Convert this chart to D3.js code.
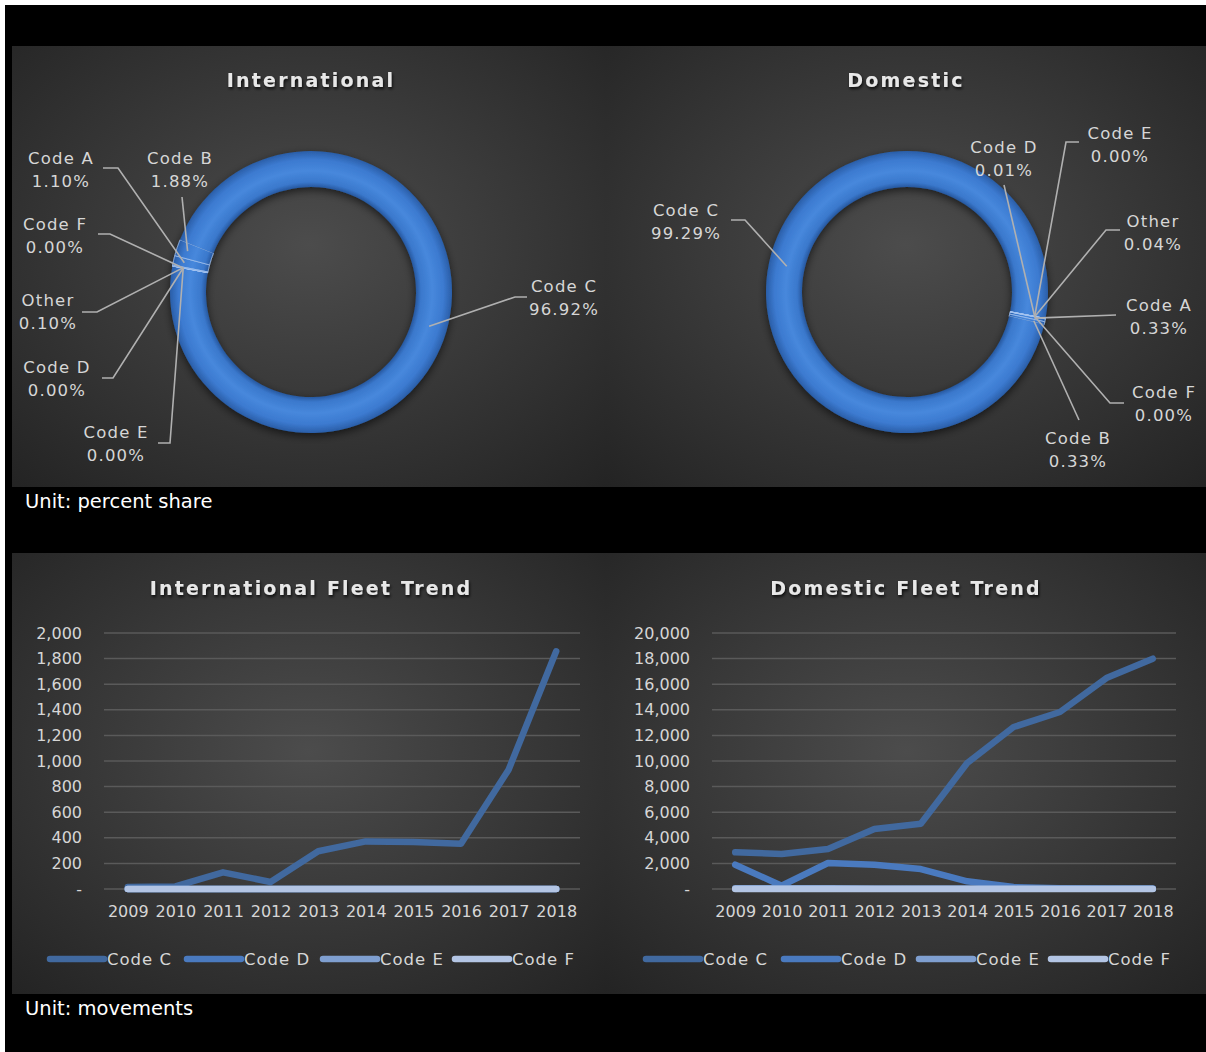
<!DOCTYPE html>
<html><head><meta charset="utf-8">
<script src="https://cdn.jsdelivr.net/npm/d3@7"></script>
<style>body{margin:0;background:#fff}svg{display:block}text{font-family:"DejaVu Sans",Lato,sans-serif}</style>
</head><body>
<svg id="c" width="1206" height="1052"></svg>
<script>
// ---------- DATA ----------
const shareLabels = ["Code A","Code B","Code C","Code D","Code E","Code F","Other"];
const intlShare   = [1.10, 1.88, 96.92, 0.00, 0.00, 0.00, 0.10];
const domShare    = [0.33, 0.33, 99.29, 0.01, 0.00, 0.00, 0.04];

const years = [2009,2010,2011,2012,2013,2014,2015,2016,2017,2018];
const seriesNames = ["Code C","Code D","Code E","Code F"];
const intlC = [15, 20, 130, 55, 295, 372, 367, 354, 932, 1857];
const intlD = [0, 0, 0, 0, 0, 0, 0, 0, 0, 0];
const intlE = [0, 0, 0, 0, 0, 0, 0, 0, 0, 0];
const intlF = [0, 0, 0, 0, 0, 0, 0, 0, 0, 0];
const domC = [2865, 2734, 3125, 4688, 5104, 9844, 12656, 13828, 16484, 17995];
const domD = [1900, 260, 2031, 1900, 1560, 600, 150, 60, 40, 30];
const domE = [60, 50, 50, 40, 40, 30, 30, 20, 20, 20];
const domF = [0, 0, 0, 0, 0, 0, 0, 0, 0, 0];
const intlTicks = [0,200,400,600,800,1000,1200,1400,1600,1800,2000];
const domTicks  = [0,2000,4000,6000,8000,10000,12000,14000,16000,18000,20000];

// ---------- STYLE ----------
const lineColors = ["#41699f","#4a7abf","#7f9fd0","#b3c5e4"];
const txt = "#d6d6d6";
const FF = '"DejaVu Sans",Lato,sans-serif';

const svg = d3.select("#c");
const defs = svg.append("defs");

svg.append("rect").attr("width",1206).attr("height",1052).attr("fill","#fff");
svg.append("rect").attr("x",5).attr("y",5).attr("width",1201).attr("height",1047).attr("fill","#000");

const pg = defs.append("radialGradient").attr("id","pg").attr("cx","50%").attr("cy","45%").attr("r","75%");
pg.append("stop").attr("offset","0%").attr("stop-color","#4c4c4c");
pg.append("stop").attr("offset","100%").attr("stop-color","#232323");

const sh = defs.append("filter").attr("id","tsh").attr("x","-10%").attr("y","-30%").attr("width","120%").attr("height","160%");
sh.append("feDropShadow").attr("dx",1).attr("dy",2).attr("stdDeviation",1.5).attr("flood-color","#000").attr("flood-opacity",0.8);

const panels = [[12,46,594,441],[606,46,600,441],[12,553,594,441],[606,553,600,441]];
panels.forEach(p=>svg.append("rect").attr("x",p[0]).attr("y",p[1]).attr("width",p[2]).attr("height",p[3]).attr("fill","url(#pg)"));

function title(x,y,t){
  svg.append("text").attr("x",x).attr("y",y).attr("text-anchor","middle")
    .attr("font-size",19).attr("font-weight","bold").attr("letter-spacing",2.2)
    .attr("fill","#e8e8e8").attr("filter","url(#tsh)").text(t);
}
title(311,87,"International");
title(906,87,"Domestic");
title(311,595,"International Fleet Trend");
title(906,595,"Domestic Fleet Trend");

svg.append("text").attr("x",25).attr("y",508).attr("font-size",19.5).attr("fill","#fff").text("Unit: percent share");
svg.append("text").attr("x",25).attr("y",1015).attr("font-size",19.5).attr("fill","#fff").text("Unit: movements");

// ---------- DONUTS ----------
function donut(id, cx, cy, values, startDeg, layout){
  const rO = 141, rI = 105;
  const g = svg.append("g").attr("transform",`translate(${cx},${cy})`);
  const rg = defs.append("radialGradient").attr("id","rg"+id).attr("gradientUnits","userSpaceOnUse")
    .attr("cx",0).attr("cy",0).attr("r",rO);
  [[0.74,"#24549a"],[0.78,"#3a78cc"],[0.86,"#4788dc"],[0.94,"#3c7ad0"],[1,"#2a5ea8"]]
    .forEach(s=>rg.append("stop").attr("offset",s[0]).attr("stop-color",s[1]));
  const ds = defs.append("filter").attr("id","ds"+id).attr("x","-20%").attr("y","-20%").attr("width","140%").attr("height","140%");
  ds.append("feDropShadow").attr("dx",0).attr("dy",3).attr("stdDeviation",4).attr("flood-color","#000").attr("flood-opacity",0.6);
  const s0 = startDeg*Math.PI/180;
  const pie = d3.pie().sort(null).startAngle(s0).endAngle(s0+2*Math.PI).value(d=>d);
  const arcs = pie(values);
  const arc = d3.arc().innerRadius(rI).outerRadius(rO);
  g.append("g").attr("filter","url(#ds"+id+")").selectAll("path").data(arcs).join("path")
    .attr("d",arc).attr("fill","url(#rg"+id+")")
    .attr("stroke",(d,i)=> i===2 ? "none" : "#a9c8f2").attr("stroke-opacity",0.7).attr("stroke-width",1);
  arcs.forEach((a,i)=>{
    const L = layout[i];
    const m = (a.startAngle+a.endAngle)/2;
    const rr = i===2 ? 123 : 130;
    const px = cx + rr*Math.sin(m), py = cy - rr*Math.cos(m);
    const pts = [[L.s[0],L.s[1]]];
    if (L.e) pts.push(L.e);
    pts.push([px,py]);
    svg.append("path").attr("d",d3.line()(pts)).attr("fill","none").attr("stroke","#b0b0b0").attr("stroke-width",1.6);
    const t = svg.append("text").attr("text-anchor","middle").attr("font-size",16.5).attr("letter-spacing",1.2).attr("fill",txt);
    t.append("tspan").attr("x",L.t[0]).attr("y",L.t[1]+6).text(shareLabels[i]);
    t.append("tspan").attr("x",L.t[0]).attr("y",L.t[1]+29).text(values[i].toFixed(2)+"%");
  });
}
donut("i",311,292,intlShare,281,[
  {t:[61,158], s:[103,168], e:[118,168]},
  {t:[180,158], s:[182,197]},
  {t:[564,286], s:[527,297], e:[515,297]},
  {t:[57,367], s:[102,378], e:[113,378]},
  {t:[116,432], s:[158,443], e:[170,443]},
  {t:[55,224], s:[98,234], e:[110,234]},
  {t:[48,300], s:[82,312], e:[97,312]}
]);
donut("d",907,292,domShare,101,[
  {t:[1159,305], s:[1116,315]},
  {t:[1078,438], s:[1079,420]},
  {t:[686,210], s:[731,220], e:[745,220]},
  {t:[1004,147], s:[1004,185]},
  {t:[1120,133], s:[1079,142], e:[1066,142]},
  {t:[1164,392], s:[1124,403], e:[1110,403]},
  {t:[1153,221], s:[1120,230], e:[1106,230]}
]);

// ---------- LINE CHARTS ----------
function lineChart(x0, x1, series, ticks, legendX){
  const yTop = 633, yBot = 889;
  const x = d3.scalePoint().domain(years).range([x0,x1]).padding(0.5);
  const y = d3.scaleLinear().domain([0,d3.max(ticks)]).range([yBot,yTop]);
  const g = svg.append("g");
  g.append("g").selectAll("line").data(ticks).join("line")
    .attr("x1",x0).attr("x2",x1).attr("y1",d=>y(d)).attr("y2",d=>y(d))
    .attr("stroke","#5a5a5a").attr("stroke-width",1.5);
  const fmt = d3.format(",");
  const ya = g.append("g").attr("transform",`translate(${x0},0)`)
    .call(d3.axisLeft(y).tickValues(ticks).tickSize(0).tickPadding(22).tickFormat(d=>d===0?"-":fmt(d)));
  ya.select(".domain").remove();
  ya.selectAll("text").attr("font-size",16).attr("fill",txt).style("font-family",FF);
  const xa = g.append("g").attr("transform",`translate(0,${yBot})`)
    .call(d3.axisBottom(x).tickSize(0).tickPadding(17));
  xa.select(".domain").remove();
  xa.selectAll("text").attr("font-size",16).attr("fill",txt).style("font-family",FF);
  const line = d3.line().x((d,i)=>x(years[i])).y(d=>y(d));
  series.forEach((s,k)=>{
    g.append("path").attr("d",line(s)).attr("fill","none").attr("stroke",lineColors[k])
      .attr("stroke-width",6.5).attr("stroke-linecap","round").attr("stroke-linejoin","round");
  });
  seriesNames.forEach((n,k)=>{
    const lx = legendX[k];
    g.append("line").attr("x1",lx).attr("x2",lx+54).attr("y1",959).attr("y2",959)
      .attr("stroke",lineColors[k]).attr("stroke-width",6.5).attr("stroke-linecap","round");
    g.append("text").attr("x",lx+57).attr("y",965).attr("font-size",16.5).attr("letter-spacing",1).attr("fill",txt).text(n);
  });
}
lineChart(104,580,[intlC,intlD,intlE,intlF],intlTicks,[50,187,323,455]);
lineChart(712,1176,[domC,domD,domE,domF],domTicks,[646,784,919,1051]);
</script>
</body></html>
